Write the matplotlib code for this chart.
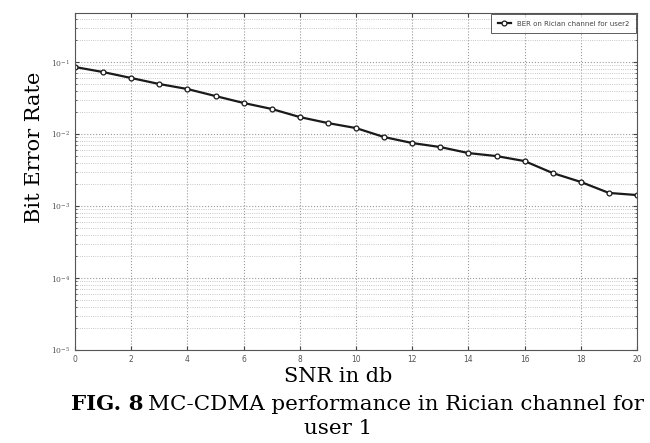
import matplotlib
matplotlib.use("Agg")
import matplotlib.pyplot as plt
from matplotlib.ticker import LogLocator, NullFormatter, FixedLocator

plt.rcParams["mathtext.fontset"] = "dejavuserif"

# BER
snr_db = list(range(0, 21))
ber_user = [0.0853, 0.0726, 0.0600, 0.0495, 0.0422, 0.0337, 0.0270, 0.0223,
            0.0172, 0.0142, 0.0121, 0.00908, 0.0075, 0.00659, 0.00544,
            0.00494, 0.00421, 0.00287, 0.00216, 0.00152, 0.00142]

x_ticks = [0, 2, 4, 6, 8, 10, 12, 14, 16, 18, 20]
y_ticks = [1e-5, 1e-4, 1e-3, 1e-2, 1e-1]
y_tick_labels = [r"$10^{-5}$", r"$10^{-4}$", r"$10^{-3}$", r"$10^{-2}$", r"$10^{-1}$"]

fig = plt.figure(figsize=(6.5, 4.43), dpi=100)
ax = fig.add_axes([75 / 650, 1 - 350 / 443, (637 - 75) / 650, (350 - 13) / 443])

ax.semilogy(snr_db, ber_user, color="#1a1a1a", lw=1.6, marker="o", ms=3.5,
            mfc="white", mec="#1a1a1a", mew=0.9,
            label="BER on Rician channel for user2")

ax.set_xlim(0, 20)
ax.set_ylim(1e-5, 0.48)
ax.xaxis.set_major_locator(FixedLocator(x_ticks))
ax.set_yticks(y_ticks)
ax.set_yticklabels(y_tick_labels)
ax.yaxis.set_minor_locator(LogLocator(base=10, subs=range(2, 10)))
ax.yaxis.set_minor_formatter(NullFormatter())

ax.grid(True, which="major", ls=":", color="#9a9a9a", lw=0.8)
ax.grid(True, which="minor", axis="y", ls=":", color="#b5b5b5", lw=0.6)
ax.tick_params(which="both", direction="in", top=True, right=True,
               labelsize=5.5, labelcolor="#555555", length=3, color="#444444")
ax.tick_params(which="minor", length=1.5)
for s in ax.spines.values():
    s.set_color("#555555")
    s.set_linewidth(0.8)

leg = ax.legend(loc="upper right", fontsize=5, frameon=True, fancybox=False,
                edgecolor="#333333", handlelength=2.0, borderpad=0.9,
                borderaxespad=0.2, labelcolor="#444444")
leg.get_frame().set_linewidth(0.7)

fig.text(35 / 650, 1 - 147 / 443, "Bit Error Rate", rotation=90,
         ha="center", va="center", fontsize=15, family="DejaVu Serif")
fig.text(338 / 650, 1 - 377 / 443, "SNR in db", ha="center", va="center",
         fontsize=15, family="DejaVu Serif")

# caption: bold figure number followed by regular text
cap_base = 1 - 410 / 443
fig_no = fig.text(71 / 650, cap_base, "FIG. 8", ha="left", va="baseline",
                  fontsize=15.4, family="DejaVu Serif", weight="bold")
fig.canvas.draw()
ext = fig_no.get_window_extent()
fig.text((ext.x1 + 5) / 650, cap_base,
         "MC-CDMA performance in Rician channel for",
         ha="left", va="baseline", fontsize=15.4, family="DejaVu Serif")
fig.text(338 / 650, 1 - 428 / 443, "user 1", ha="center", va="center",
         fontsize=15.4, family="DejaVu Serif")

fig.savefig("out.png", dpi=100)
